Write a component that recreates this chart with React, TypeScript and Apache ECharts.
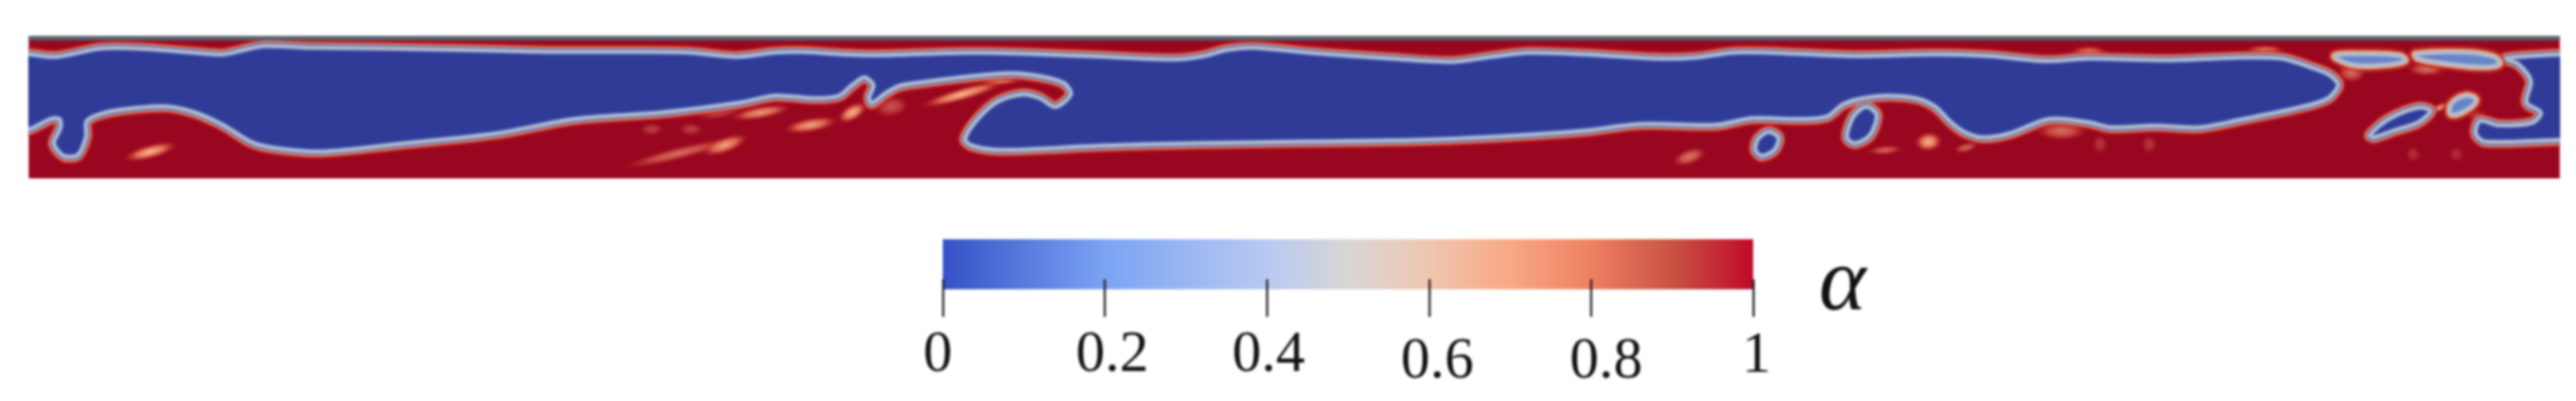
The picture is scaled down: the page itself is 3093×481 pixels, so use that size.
import React, { useEffect, useRef } from "react";
import * as echarts from "echarts";

// Field domain: X along the channel, Y height above the floor
const domainX = [0, 3039];
const domainY = [0, 171];
const wallBand = [165.5, 171];

// Interface alpha = 0.5, main gas region
const gasTop: number[][] = [
  [-14, 149], [1, 149], [33, 146], [86, 156], [133, 156], [199, 151], [233, 149], [266, 156], [284, 159], [337, 157],
  [430, 156], [536, 154], [629, 152], [728, 152], [795, 151], [851, 146], [894, 151], [927, 152], [1006, 148],
  [1139, 151], [1271, 147], [1377, 143], [1411, 147], [1437, 154], [1470, 157], [1537, 151], [1636, 144], [1709, 140],
  [1756, 146], [1802, 151], [1868, 149], [1955, 144], [2001, 145], [2046, 151], [2092, 151], [2191, 147], [2290, 149],
  [2355, 147], [2421, 141], [2474, 144], [2566, 142], [2652, 145], [2705, 144],
];
const gasNose: number[][] = [
  [2744, 132], [2763, 124], [2773, 112], [2761, 96], [2731, 86], [2659, 71], [2606, 61],
];
const gasBottom: number[][] = [
  [2553, 63], [2500, 61], [2474, 67], [2426, 71], [2379, 54], [2346, 49], [2323, 56], [2306, 69], [2289, 86], [2266, 96],
  [2233, 99], [2203, 96], [2179, 89], [2159, 74], [2126, 71], [2069, 72], [2026, 64], [1935, 65], [1868, 57], [1782, 51],
  [1669, 46], [1537, 44], [1404, 42], [1286, 39], [1246, 37], [1166, 34], [1133, 39], [1124, 47], [1139, 71], [1163, 92],
  [1193, 101], [1213, 97], [1233, 86], [1251, 101], [1243, 114], [1216, 122], [1179, 126], [1129, 122], [1079, 116],
  [1046, 111], [1029, 102], [1012, 90], [1009, 97], [1014, 112], [1003, 121], [989, 112], [973, 99], [946, 96], [896, 99],
  [856, 91], [761, 79], [655, 71], [563, 54], [443, 41], [350, 32], [291, 37], [266, 44], [233, 64], [199, 79], [166, 86],
  [126, 84], [93, 79], [70, 69], [69, 50], [59, 28], [42, 27], [30, 42], [38, 61], [37, 71], [26, 71], [1, 59], [-14, 59],
];
// Detached gas pockets
const dropletA: number[][] = [[2089, 56], [2101, 49], [2096, 34], [2081, 27], [2073, 34], [2076, 47]];
const dropletB: number[][] = [[2208, 86], [2219, 76], [2211, 52], [2193, 42], [2183, 49], [2189, 71], [2198, 82]];
const dropletC: number[][] = [[2869, 85], [2884, 81], [2869, 67], [2839, 57], [2816, 49], [2811, 52], [2833, 71]];
const dropletD: number[][] = [[2926, 99], [2938, 94], [2926, 82], [2909, 77], [2909, 89]];
const bubbleE: number[][] = [[2769, 147], [2806, 149], [2846, 147], [2853, 141], [2823, 136], [2789, 137]];
const bubbleF: number[][] = [[2866, 149], [2919, 151], [2959, 146], [2966, 137], [2943, 134], [2896, 139], [2869, 144]];
const gasRight: number[][] = [
  [3060, 149], [3039, 149], [2973, 144], [2989, 137], [3004, 117], [2999, 91], [3016, 79], [3006, 67], [2966, 64],
  [2943, 69], [2938, 54], [2949, 44], [3039, 46], [3060, 46],
];

// Diffuse mixing patches: X, Y, half-length, half-width, tilt in degrees, strength
const patches: number[][] = [
  [146, 32, 34, 9, 15, 1], [780, 30, 70, 8, 14, 0.6], [836, 40, 30, 10, 20, 0.9], [879, 79, 38, 8, 10, 0.85],
  [939, 64, 34, 9, 10, 0.9], [989, 79, 20, 10, 30, 1], [748, 59, 15, 8, 0, 0.35], [795, 59, 16, 8, 0, 0.35],
  [830, 80, 30, 9, 10, 0.4], [1121, 101, 54, 8, 16, 1], [1166, 117, 26, 5, 0, 0.8], [1036, 86, 22, 13, 10, 0.45],
  [1994, 26, 22, 10, 20, 0.65], [2281, 44, 17, 12, 5, 1], [2229, 34, 22, 6, 5, 0.55], [2326, 37, 16, 6, 15, 0.55],
  [2441, 57, 32, 12, 0, 0.6], [2487, 41, 10, 12, 0, 0.3], [2546, 41, 10, 12, 0, 0.3], [2863, 29, 10, 10, 0, 0.25],
  [2915, 29, 10, 10, 0, 0.25], [2474, 151, 24, 8, 0, 0.8], [2685, 154, 24, 6, 0, 0.7], [2879, 131, 24, 9, 0, 0.6],
  [2789, 127, 18, 13, 0, 0.6], [2893, 84, 18, 5, 25, 0.9], [2940, 75, 12, 7, 0, 0.45],
];

// Colour bar
const barRange = [0, 1];
const barStops = [0, 0.2, 0.4, 0.5, 0.6, 0.7, 0.8, 0.9, 1];
const barColors = ["#3550c6", "#7ba3f4", "#b8c9f1", "#d8d6d6", "#efc6b0", "#f8a884", "#ee8062", "#c95242", "#c00a28"];
const tickValues = ["0", "0.2", "0.4", "0.6", "0.8", "1"];
const legendSymbol = "α";

const RED = "#98061f";
const BLUE = "#2f3b97";

const interfaceLayers = [
  { fill: "none", stroke: "#c5281c", lineWidth: 17, opacity: 0.75 },
  { fill: "none", stroke: "#e98a66", lineWidth: 12 },
  { fill: "none", stroke: "#efb090", lineWidth: 8 },
  { fill: BLUE, stroke: "#3a5cbc", lineWidth: 8 },
  { fill: "none", stroke: "#b2b6c6", lineWidth: 5 },
];
const pocketLayers = [
  { fill: "none", stroke: "#c5321f", lineWidth: 16, opacity: 0.7 },
  { fill: "none", stroke: "#e9a080", lineWidth: 9 },
  { fill: "#6684c8", stroke: "#b3bacb", lineWidth: 5 },
];

function polygons(name: string, polys: number[][][], layers: any[], smooth: number) {
  return {
    name,
    type: "custom",
    xAxisIndex: 0,
    yAxisIndex: 0,
    clip: true,
    silent: true,
    data: [[0, 0]],
    renderItem: (_: any, api: any) => ({
      type: "group",
      children: layers.flatMap((style) =>
        polys.map((pts) => ({
          type: "polygon",
          shape: { points: pts.map((q) => api.coord(q)), smooth },
          style: { ...style, lineJoin: "round" },
        })),
      ),
    }),
  };
}

export default function App() {
  const ref = useRef<HTMLDivElement>(null);
  useEffect(() => {
    const chart = echarts.init(ref.current!, undefined, { renderer: "svg" });
    const band = (low: number, high: number, fill: any, xa: number, xr: number[], ya: number) => ({
      type: "custom",
      xAxisIndex: xa,
      yAxisIndex: ya,
      silent: true,
      data: [[0, 0]],
      renderItem: (_: any, api: any) => {
        const a = api.coord([xr[0], high]);
        const b = api.coord([xr[1], low]);
        return { type: "rect", shape: { x: a[0], y: a[1], width: b[0] - a[0], height: b[1] - a[1] }, style: { fill } };
      },
    });
    const labelRich: any = {};
    const offsets = [
      { padding: [0, 12, 0, 0] },
      { padding: [0, 0, 0, 18] },
      { padding: [0, 0, 0, 4] },
      { padding: [16, 0, 0, 20] },
      { padding: [16, 0, 0, 36] },
      { padding: [2, 0, 0, 8] },
    ];
    offsets.forEach((o, i) => {
      labelRich["t" + i] = {
        ...o,
        fontFamily: "Liberation Serif",
        fontSize: 70,
        lineHeight: 70,
        color: "#111",
      };
    });
    chart.setOption({
      animation: false,
      backgroundColor: "#ffffff",
      grid: [
        { left: 34.5, top: 43, width: 3039, height: 171 },
        { left: 1132, top: 287, width: 973, height: 60 },
      ],
      xAxis: [
        { type: "value", min: domainX[0], max: domainX[1], show: false, gridIndex: 0 },
        {
          type: "value",
          gridIndex: 1,
          min: barRange[0],
          max: barRange[1],
          interval: 0.2,
          position: "bottom",
          offset: -12,
          splitLine: { show: false },
          axisLine: { show: false },
          axisTick: { show: true, inside: false, length: 45, lineStyle: { color: "#1a1a1a", width: 2.5 } },
          axisLabel: {
            margin: 51,
            showMinLabel: true,
            showMaxLabel: true,
            hideOverlap: false,
            formatter: (_: number, i: number) => `{t${i}|${tickValues[i]}}`,
            rich: labelRich,
          },
          z: 5,
        },
      ],
      yAxis: [
        { type: "value", min: domainY[0], max: domainY[1], show: false, gridIndex: 0 },
        { type: "value", min: 0, max: 1, show: false, gridIndex: 1 },
      ],
      graphic: [
        {
          type: "text",
          left: 2184,
          top: 280,
          style: { text: legendSymbol, font: "italic 108px 'Liberation Serif'", fill: "#111" },
        },
      ],
      series: [
        band(domainY[0], domainY[1], RED, 0, domainX, 0),
        {
          name: "mixing",
          type: "custom",
          xAxisIndex: 0,
          yAxisIndex: 0,
          clip: true,
          silent: true,
          data: patches,
          encode: { x: 0, y: 1 },
          renderItem: (_: any, api: any) => {
            const c = api.coord([api.value(0), api.value(1)]);
            const s = api.size([api.value(2), api.value(3)]);
            const k = api.value(5);
            return {
              type: "ellipse",
              x: c[0],
              y: c[1],
              rotation: (api.value(4) * Math.PI) / 180,
              shape: { cx: 0, cy: 0, rx: s[0], ry: s[1] },
              style: {
                opacity: k,
                fill: new echarts.graphic.RadialGradient(0.5, 0.5, 0.5, [
                  { offset: 0, color: "rgba(248,190,150,1)" },
                  { offset: 0.5, color: "rgba(238,130,95,0.85)" },
                  { offset: 1, color: "rgba(200,40,30,0)" },
                ]),
              },
            };
          },
        },
        polygons("gas", [[...gasTop, ...gasNose, ...gasBottom], gasRight, dropletA, dropletB, dropletC], interfaceLayers, 0.3),
        polygons("pockets", [dropletD, bubbleE, bubbleF], pocketLayers, 0.4),
        band(wallBand[0], wallBand[1], "#59636f", 0, domainX, 0),
        band(
          0,
          1,
          new echarts.graphic.LinearGradient(
            0,
            0,
            1,
            0,
            barStops.map((offset, i) => ({ offset, color: barColors[i] })),
          ),
          1,
          barRange,
          1,
        ),
      ],
    });
    return () => chart.dispose();
  }, []);
  return (
    <div
      ref={ref}
      style={{ position: "absolute", left: 0, top: 0, width: 3093, height: 481, filter: "blur(1.5px)" }}
    />
  );
}
